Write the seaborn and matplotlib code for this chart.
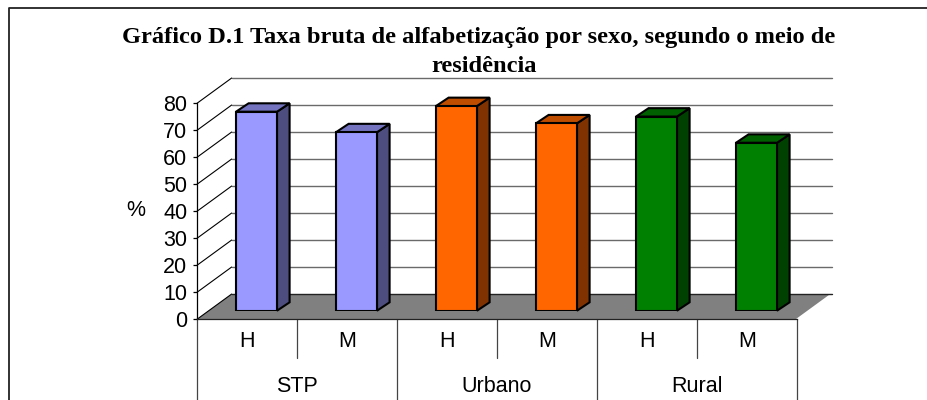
import numpy as np
import pandas as pd
import matplotlib
matplotlib.use("Agg")
import matplotlib.pyplot as plt
from matplotlib.patches import Polygon
from matplotlib.lines import Line2D
from matplotlib.colors import to_rgb
import seaborn as sns

# Data: literacy rate (%) by sex and area of residence
grupos = ["STP", "Urbano", "Rural"]
sexos = ["H", "M"]
valores_stp = [73.7, 66.1]
valores_urbano = [75.8, 69.4]
valores_rural = [71.9, 62.2]
cores = {"STP": "#9999FF", "Urbano": "#FF6600", "Rural": "#008000"}
y_ticks = [0, 10, 20, 30, 40, 50, 60, 70, 80]
titulo_1 = "Gráfico D.1 Taxa bruta de alfabetização por sexo, segundo o meio de"
titulo_2 = "residência"

df = pd.DataFrame({
    "grupo": [g for g in grupos for _ in sexos],
    "sexo": sexos * len(grupos),
    "valor": valores_stp + valores_urbano + valores_rural,
})
df["pos"] = df["grupo"] + " " + df["sexo"]

sns.set_style("white")
plt.rcParams["font.family"] = ["Liberation Sans", "DejaVu Sans"]
plt.rcParams["text.color"] = "black"
plt.rcParams["axes.labelcolor"] = "black"

W, H = 927, 400
fig = plt.figure(figsize=(W / 100, H / 100), dpi=100)

# pixel geometry of the plot box (front plane)
x_left, x_right = 197, 797
y_zero, y_top = 319.3, 103.3
px_x = 6.0 / (x_right - x_left)          # data units per pixel (x)
px_y = 80.0 / (y_zero - y_top)           # data units per pixel (y)

# depth offsets (oblique projection)
DX, DY = 34.7 * px_x, 25.3 * px_y        # full floor depth
bar_off_x, bar_off_y = 9.5, 8.6          # bar front plane offset, px
bdx, bdy = 12.6 * px_x, 8.4 * px_y       # bar depth

def axes_rect(dx_px=0.0, dy_px=0.0):
    return [(x_left + dx_px) / W, (H - y_zero + dy_px) / H,
            (x_right - x_left) / W, (y_zero - y_top) / H]

ax = fig.add_axes(axes_rect())
ax.set_xlim(-0.5, 5.5)
ax.set_ylim(0, 80)
ax.patch.set_alpha(0)

# floor
floor = Polygon([(-0.5, 0), (5.5, 0), (5.5 + DX, DY), (-0.5 + DX, DY)],
                closed=True, facecolor="#808080", edgecolor="none",
                clip_on=False, zorder=0.5)
ax.add_patch(floor)
ax.plot([5.5, 5.5 + DX], [0, DY], color="white", lw=1.2, clip_on=False, zorder=0.6)

# back wall gridlines and side wall diagonals
for v in y_ticks:
    ax.plot([-0.5 + DX, 5.5 + DX], [v + DY, v + DY],
            color="#222222" if v == 0 else "#6a6a6a", lw=1.0,
            clip_on=False, zorder=0.7)
    ax.plot([-0.5, -0.5 + DX], [v, v + DY], color="black", lw=0.8,
            clip_on=False, zorder=0.7)

# category table below the floor
y_bottom = -(H - y_zero + 2) * px_y
y_short = -(357.7 - y_zero) * px_y
for k in range(7):
    y_end = y_bottom if k % 2 == 0 else y_short
    ax.plot([-0.5 + k, -0.5 + k], [0, y_end], color="#444444", lw=0.9,
            clip_on=False, zorder=0.7)
y_grp = -(387 - y_zero) * px_y
for i, g in enumerate(grupos):
    ax.text(0.5 + 2 * i, y_grp, g, ha="center", va="center", fontsize=15.5,
            color="black")

ax.set_xticks(range(6), df["sexo"].tolist())
ax.set_yticks(y_ticks)
ax.tick_params(axis="x", length=0, pad=8.5, labelsize=15.5, colors="black")
ax.tick_params(axis="y", direction="out", length=3, width=0.9, pad=4,
               labelsize=15.5, colors="black", left=True)
for s in ["top", "right"]:
    ax.spines[s].set_visible(False)
ax.spines["left"].set_color("black")
ax.spines["left"].set_linewidth(0.9)
ax.spines["bottom"].set_color("#222222")
ax.spines["bottom"].set_linewidth(0.9)
ax.set_ylabel("%", rotation=0, fontsize=15.5, ha="center", va="center",
              color="black")
ax.yaxis.set_label_coords((136 - x_left) / (x_right - x_left),
                          (y_zero - 210) / (y_zero - y_top))

# bars: front faces drawn by seaborn on a plane shifted into depth
bx = fig.add_axes(axes_rect(bar_off_x, bar_off_y))
bx.set_xlim(-0.5, 5.5)
bx.set_ylim(0, 80)
bx.patch.set_alpha(0)
sns.barplot(data=df, x="pos", y="valor", hue="grupo", palette=cores,
            dodge=False, width=0.41, saturation=1, edgecolor="black",
            linewidth=1.5, legend=False, ax=bx, zorder=3)
bx.set_xlim(-0.5, 5.5)
bx.set_ylim(0, 80)
bx.axis("off")

for p in list(bx.patches):
    x0 = p.get_x()
    x1 = x0 + p.get_width()
    h = p.get_height()
    base = np.array(to_rgb(p.get_facecolor()))
    side = Polygon([(x1, 0), (x1 + bdx, bdy), (x1 + bdx, h + bdy), (x1, h)],
                   closed=True, facecolor=base * 0.5, edgecolor="black",
                   lw=1.5, joinstyle="miter", clip_on=False, zorder=2)
    top = Polygon([(x0, h), (x1, h), (x1 + bdx, h + bdy), (x0 + bdx, h + bdy)],
                  closed=True, facecolor=base * 0.75, edgecolor="black",
                  lw=1.5, joinstyle="miter", clip_on=False, zorder=2)
    bx.add_patch(side)
    bx.add_patch(top)

# title
fig.text(479 / W, 1 - 37 / H, titulo_1, ha="center", va="center",
         fontsize=17.6, fontweight="bold", family="Liberation Serif",
         color="black")
fig.text(484 / W, 1 - 66 / H, titulo_2, ha="center", va="center",
         fontsize=17.6, fontweight="bold", family="Liberation Serif",
         color="black")

# outer frame
fig.add_artist(Line2D([9 / W, 9 / W, 1], [0, 1 - 8 / H, 1 - 8 / H],
                      transform=fig.transFigure, color="#222222", lw=1.3))

fig.savefig("out.png", dpi=100)
